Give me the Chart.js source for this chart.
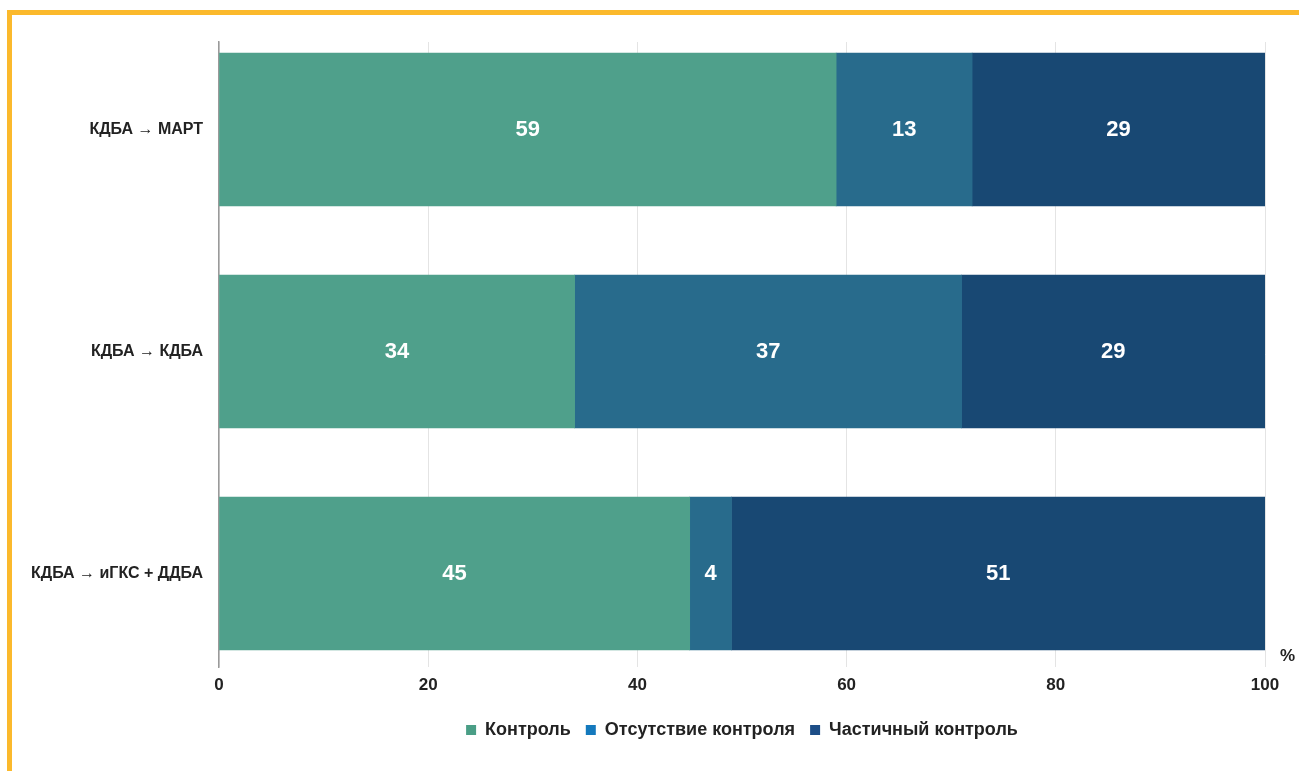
<!DOCTYPE html>
<html lang="ru">
<head>
<meta charset="utf-8">
<title>Контроль астмы после смены терапии</title>
<script src="https://cdn.jsdelivr.net/npm/chart.js@4.4.1/dist/chart.umd.min.js"></script>
<style>
  html, body { margin: 0; padding: 0; background: #fff; overflow: hidden; }
  #wrap { position: relative; width: 1299px; height: 771px; }
  #frame {
    position: absolute; left: 7px; top: 10px; right: 0; bottom: 0;
    border-top: 5px solid #fbb92c; border-left: 5px solid #fbb92c;
    pointer-events: none;
  }
</style>
</head>
<body>
<div id="wrap">
  <canvas id="chart" width="1299" height="771"></canvas>
  <div id="frame"></div>
</div>
<script>
// Rows of the chart, top to bottom
const categories = ['КДБА → МАРТ', 'КДБА → КДБА', 'КДБА → иГКС + ДДБА'];

// Share of patients, %
const control        = [59, 34, 45];
const noControl      = [13, 37, 4];
const partialControl = [29, 29, 51];

const seriesNames = ['Контроль', 'Отсутствие контроля', 'Частичный контроль'];
const xTicks = [0, 20, 40, 60, 80, 100];

const barColors    = ['#4fa08b', '#286b8c', '#184873'];
const legendColors = ['#4a9e86', '#1479bd', '#1d4e87'];

const FONT = "'Liberation Sans Narrow', 'Arial Narrow', 'Liberation Sans', Arial, sans-serif";
const TEXT = '#222222';

// index axis is linear so rows can sit at 0, 1, 2
function rows(values) {
  return values.map((v, i) => ({ x: v, y: i }));
}

// white value labels in the middle of every segment
const valueLabels = {
  id: 'valueLabels',
  afterDatasetsDraw(chart) {
    const ctx = chart.ctx;
    const area = chart.chartArea;
    ctx.save();
    ctx.fillStyle = '#ffffff';
    ctx.font = 'bold 22px ' + FONT;
    ctx.textAlign = 'center';
    ctx.textBaseline = 'middle';
    chart.data.datasets.forEach((ds, di) => {
      chart.getDatasetMeta(di).data.forEach((bar, i) => {
        const right = Math.min(bar.x, area.right);
        const left = Math.max(bar.base, area.left);
        ctx.fillText(String(ds.data[i].x), (left + right) / 2, bar.y);
      });
    });
    ctx.restore();
  }
};

// unit sign at the end of the value axis
const unitLabel = {
  id: 'unitLabel',
  afterDraw(chart) {
    const ctx = chart.ctx;
    const area = chart.chartArea;
    ctx.save();
    ctx.fillStyle = TEXT;
    ctx.font = 'bold 17px ' + FONT;
    ctx.textAlign = 'left';
    ctx.textBaseline = 'middle';
    ctx.fillText('%', area.right + 15, area.bottom - 11);
    ctx.restore();
  }
};

// centre the legend under the plot rather than the whole canvas
const legendUnderPlot = {
  id: 'legendUnderPlot',
  afterLayout(chart) {
    if (!chart.legend) return;
    chart.legend.left = chart.chartArea.left;
    chart.legend.right = chart.chartArea.right;
  }
};

new Chart(document.getElementById('chart'), {
  type: 'bar',
  data: {
    datasets: [
      { label: seriesNames[0], data: rows(control), backgroundColor: barColors[0] },
      { label: seriesNames[1], data: rows(noControl), backgroundColor: barColors[1] },
      { label: seriesNames[2], data: rows(partialControl), backgroundColor: barColors[2] }
    ]
  },
  options: {
    indexAxis: 'y',
    responsive: false,
    animation: false,
    barThickness: 153,
    layout: { padding: { top: 42, right: 34, left: 0, bottom: 22 } },
    scales: {
      x: {
        type: 'linear',
        stacked: true,
        min: 0,
        max: 100,
        afterBuildTicks: s => { s.ticks = xTicks.map(v => ({ value: v })); },
        afterFit: s => { s.height = 39; },
        grid: { color: '#e4e4e4', lineWidth: 1, drawTicks: false },
        border: { display: false },
        ticks: { color: TEXT, padding: 8, font: { family: FONT, size: 17, weight: 'bold' } }
      },
      y: {
        type: 'linear',
        stacked: true,
        reverse: true,
        offset: false,
        min: -0.394,
        max: 2.421,
        afterBuildTicks: s => { s.ticks = categories.map((c, i) => ({ value: i })); },
        afterFit: s => { s.width = 219; },
        grid: { display: true, color: 'rgba(0,0,0,0)', drawTicks: false },
        border: { display: true, color: '#9a9a9a', width: 1.5 },
        ticks: {
          color: TEXT,
          padding: 16,
          font: { family: FONT, size: 16, weight: 'bold' },
          callback: v => categories[v]
        }
      }
    },
    plugins: {
      tooltip: { enabled: false },
      legend: {
        position: 'bottom',
        labels: {
          boxWidth: 10,
          boxHeight: 10,
          padding: 15,
          color: TEXT,
          font: { family: FONT, size: 18, weight: 'bold' },
          generateLabels: chart => chart.data.datasets.map((ds, i) => ({
            text: ds.label,
            fillStyle: legendColors[i],
            strokeStyle: legendColors[i],
            lineWidth: 0,
            fontColor: TEXT,
            datasetIndex: i
          }))
        }
      }
    }
  },
  plugins: [valueLabels, unitLabel, legendUnderPlot]
});
</script>
</body>
</html>
